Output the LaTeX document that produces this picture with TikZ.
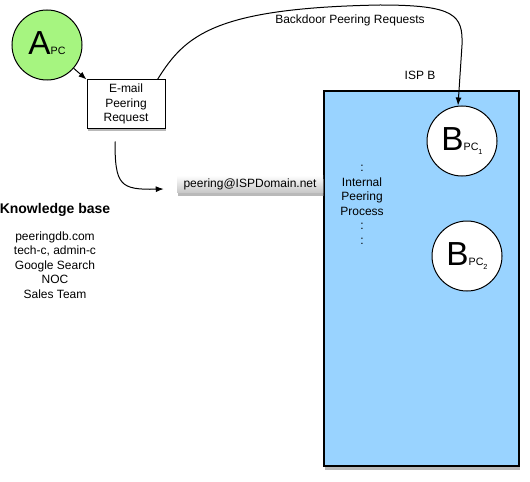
\documentclass[tikz,border=0pt]{standalone}
\usepackage{fontspec}
\setmainfont{Liberation Sans}
\usepackage{xcolor}
\usepackage{tikz}
\usetikzlibrary{arrows.meta,shadows,calc}

\definecolor{apcgreen}{RGB}{166,245,128}
\definecolor{ispblue}{RGB}{153,211,255}

\newcommand{\pclabel}[2]{{\fontsize{25}{25}\selectfont #1}{\fontsize{8}{8}\selectfont PC}\raisebox{-2.5pt}{\fontsize{5.5}{5.5}\selectfont #2}}

\tikzset{
	pcnode/.style={circle,draw,line width=0.75pt,minimum size=52.5pt,inner sep=0pt},
	mailbox/.style={draw,line width=0.75pt,fill=white,minimum width=58.5pt,minimum height=36pt,align=center,inner sep=1pt,
		drop shadow={opacity=0.55,shadow xshift=0.6pt,shadow yshift=-2.6pt}},
	addrbox/.style={top color=white,bottom color=black!22,minimum width=109.5pt,minimum height=12.75pt,inner sep=0pt,
		drop shadow={opacity=0.55,shadow xshift=0.6pt,shadow yshift=-2.6pt}},
	ispbox/.style={draw,line width=0.9pt,fill=ispblue,minimum width=146.25pt,minimum height=281.25pt,inner sep=0pt,
		drop shadow={opacity=0.55,shadow xshift=0.8pt,shadow yshift=-2.8pt}},
	plain/.style={inner sep=0.75pt,align=center},
	link/.style={line width=0.75pt,-{Latex[length=6pt,width=4.5pt]}}
}

\begin{document}
\begin{tikzpicture}[x=0.75pt,y=0.75pt,yscale=-1,xscale=1,font=\fontsize{9}{10.9}\selectfont]
	\useasboundingbox (0,0) rectangle (530,481);
	
	%Shape: Rectangle [ISP B]
	\node [ispbox] (ispb) at (421.5,278.5) {};
	%Shape: Circle [A]
	\node [pcnode,fill=apcgreen] (apc) at (47,45) {\pclabel{A}{}};
	%Shape: Circle [B1]
	\node [pcnode,fill=white] (bpc1) at (462,141) {\pclabel{B}{1}};
	%Shape: Circle [B2]
	\node [pcnode,fill=white] (bpc2) at (467,256) {\pclabel{B}{2}};
	%Shape: Rectangle [mail]
	\node [mailbox] (email) at (126,104) {E-mail\\Peering\\Request};
	%Shape: Rectangle [address]
	\node [addrbox] (addr) at (250,184) {peering@ISPDomain.net};
	
	%Straight Lines
	\draw [link] (apc) -- (email.north west);
	%Curve Lines
	\draw [link] ($(email.south)+(-11,13)$) .. controls (115,185) and (120,190) .. ($(addr.west)+(-13,5)$);
	%Curve Lines
	\draw [link] ($(email.north east)+(-8,0)$) .. controls (185,35) and (215,8) .. (380,5) .. controls (455,5) and (463,15) .. (462,45) -- ([xshift=-3pt]bpc1.north);
	
	% Text Node
	\node [plain] (backdoor) at (350,20) {Backdoor Peering Requests};
	% Text Node
	\node [plain] (ispname) at (420,75) {ISP B};
	% Text Node
	\node [plain] (internal) at (362,205) {:\\Internal\\Peering\\Process\\:\\:};
	% Text Node
	\node [plain,font=\fontsize{10.5}{12}\selectfont\bfseries] (kbase) at (55,210) {Knowledge base};
	% Text Node
	\node [plain] (kblist) at (55,265) {peeringdb.com\\tech-c, admin-c\\Google Search\\NOC\\Sales Team};
	
\end{tikzpicture}
\end{document}
